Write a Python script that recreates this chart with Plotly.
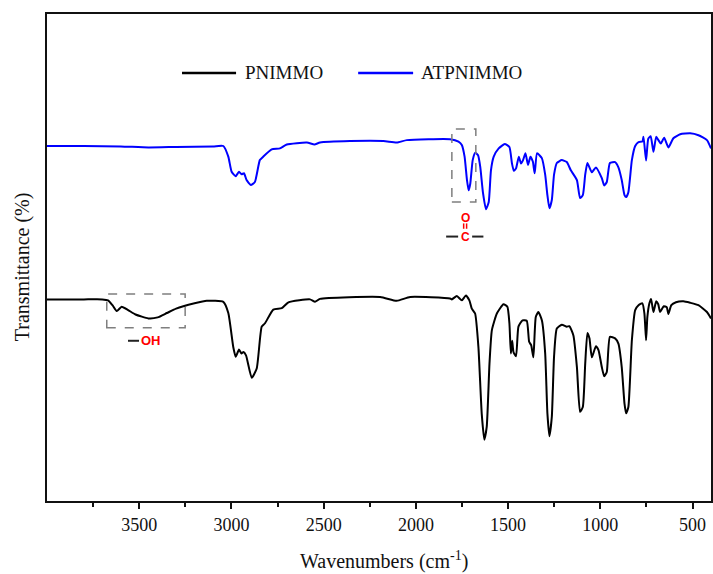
import plotly.graph_objects as go

# ---------------- data ----------------
pn_wn = [4000, 3900, 3800, 3700, 3669, 3645, 3622, 3595, 3560, 3520, 3451, 3400, 3350, 3300,
         3261, 3200, 3134, 3044, 3017, 2990, 2977, 2959, 2946, 2935, 2921, 2890, 2863, 2836,
         2818, 2773, 2727, 2691, 2574, 2547, 2520, 2194, 2104, 2031, 1815, 1805, 1778, 1751,
         1729, 1710, 1697, 1679, 1661, 1643, 1629, 1616, 1601, 1588, 1561, 1525, 1504, 1493,
         1485, 1478, 1471, 1457, 1444, 1422, 1399, 1386, 1375, 1363, 1350, 1336, 1317, 1299,
         1287, 1276, 1263, 1251, 1236, 1209, 1182, 1168, 1146, 1127, 1110, 1095, 1082, 1070,
         1059, 1046, 1024, 1010, 992, 979, 965, 948, 920, 902, 884, 869, 860, 848, 829, 811,
         793, 772, 761, 752, 745, 734, 725, 712, 697, 686, 676, 656, 640, 631, 615, 590, 550,
         513, 468, 422, 400]
pn_t = [41.4, 41.4, 41.4, 41.4, 41.2, 40.2, 39.0, 39.9, 39.2, 38.3, 37.5, 37.7, 38.6, 39.5,
        40.0, 40.6, 41.1, 40.9, 38.6, 31.6, 29.6, 31.1, 30.3, 30.6, 29.9, 25.3, 27.2, 35.8,
        36.5, 39.3, 39.6, 40.8, 41.4, 40.9, 41.5, 41.9, 41.1, 41.9, 41.6, 41.4, 42.1, 41.2,
        42.2, 41.2, 39.5, 38.5, 31.6, 17.9, 12.6, 15.2, 28.2, 35.1, 38.5, 40.4, 39.9, 36.5,
        30.3, 32.9, 30.6, 29.7, 35.8, 37.1, 37.0, 32.7, 32.0, 29.5, 37.8, 38.8, 37.1, 30.3,
        18.0, 13.3, 17.3, 29.6, 35.4, 36.2, 35.8, 35.9, 34.0, 27.5, 18.3, 19.3, 28.2, 34.5,
        33.4, 29.5, 31.8, 31.0, 27.5, 25.6, 26.5, 33.7, 33.4, 32.3, 27.5, 20.0, 18.0, 19.3,
        33.0, 39.2, 40.2, 40.6, 38.5, 33.0, 37.8, 40.6, 41.5, 38.8, 41.0, 40.4, 38.8, 40.0,
        39.8, 38.4, 40.2, 40.8, 41.0, 40.7, 40.2, 38.8, 37.5]

atp_wn = [4000, 3800, 3600, 3450, 3300, 3100, 3044, 3017, 2999, 2977, 2959, 2945, 2932, 2918,
          2895, 2873, 2846, 2828, 2782, 2737, 2700, 2591, 2550, 2520, 2357, 2176, 2104, 2049,
          1815, 1769, 1751, 1736, 1723, 1714, 1705, 1692, 1678, 1663, 1651, 1636, 1620, 1605,
          1593, 1578, 1551, 1518, 1493, 1479, 1469, 1457, 1442, 1430, 1419, 1406, 1392, 1379,
          1366, 1356, 1343, 1317, 1299, 1287, 1276, 1263, 1251, 1236, 1209, 1182, 1160, 1127,
          1110, 1095, 1082, 1070, 1046, 1024, 992, 979, 965, 948, 920, 902, 884, 869, 860,
          848, 829, 811, 793, 772, 766, 752, 740, 727, 712, 697, 685, 672, 654, 631, 604,
          567, 513, 468, 422, 400]
atp_t = [72.9, 72.9, 72.8, 72.6, 72.7, 72.8, 72.9, 70.7, 67.6, 66.7, 67.6, 67.1, 67.3, 65.9,
         64.9, 65.5, 70.0, 70.7, 72.2, 72.4, 73.2, 73.6, 73.2, 73.6, 73.9, 73.9, 73.6, 74.1,
         74.3, 73.8, 73.1, 70.7, 65.9, 63.8, 65.2, 70.0, 71.5, 71.0, 68.6, 63.2, 59.9, 61.4,
         67.9, 70.7, 72.4, 73.3, 72.7, 69.3, 67.8, 68.3, 70.7, 69.3, 70.0, 71.4, 69.0, 70.7,
         69.7, 67.3, 71.4, 70.4, 67.0, 62.8, 60.1, 61.8, 67.0, 69.4, 70.0, 69.6, 67.9, 65.9,
         62.2, 62.8, 67.0, 69.4, 67.5, 68.5, 66.3, 64.8, 65.5, 69.4, 69.6, 68.5, 65.9, 62.8,
         62.4, 63.4, 70.0, 72.9, 73.7, 73.8, 74.8, 69.9, 74.4, 74.9, 71.7, 74.8, 74.1, 73.4,
         74.6, 72.6, 74.5, 75.3, 75.5, 75.1, 74.1, 72.4]

series_names = ["PNIMMO", "ATPNIMMO"]
series_colors = ["#000000", "#0000ff"]
tick_vals = [3500, 3000, 2500, 2000, 1500, 1000, 500]
minor_vals = [3750, 3250, 2750, 2250, 1750, 1250, 750]

FONT = "Liberation Serif"

fig = go.Figure()
fig.add_trace(go.Scatter(x=pn_wn, y=pn_t, mode="lines", name=series_names[0],
                         line=dict(color=series_colors[0], width=2, shape="spline", smoothing=0.5)))
fig.add_trace(go.Scatter(x=atp_wn, y=atp_t, mode="lines", name=series_names[1],
                         line=dict(color=series_colors[1], width=2, shape="spline", smoothing=0.5)))

shapes = []
annotations = []

# custom legend
leg_y = 87.9
for (x0, x1, tx), name, col in zip([(3268, 2975, 2937), (2313, 2015, 1983)], series_names, series_colors):
    shapes.append(dict(type="line", xref="x", yref="y", x0=x0, x1=x1, y0=leg_y, y1=leg_y,
                       line=dict(color=col, width=2.5)))
    annotations.append(dict(x=tx, y=leg_y, xref="x", yref="y", text=name, showarrow=False,
                            xanchor="left", yanchor="middle",
                            font=dict(family=FONT, size=19, color="#111")))

# dashed highlight boxes
for (x0, x1, y0, y1) in [(3676, 3251, 35.6, 42.5), (1805, 1675, 61.4, 76.4)]:
    shapes.append(dict(type="rect", xref="x", yref="y", x0=x0, x1=x1, y0=y0, y1=y1,
                       line=dict(color="#7f7f7f", width=1.5, dash="dash")))

# -OH label
shapes.append(dict(type="line", xref="x", yref="y", x0=3561, x1=3501, y0=32.9, y1=32.9,
                   line=dict(color="#222", width=2)))
annotations.append(dict(x=3436, y=32.9, xref="x", yref="y", text="<b>OH</b>", showarrow=False,
                        xanchor="center", yanchor="middle",
                        font=dict(family="Liberation Sans", size=13, color="#ff0000")))

# C=O label
annotations.append(dict(x=1733, y=58.2, xref="x", yref="y", text="<b>O</b>", showarrow=False,
                        xanchor="center", yanchor="middle",
                        font=dict(family="Liberation Sans", size=12, color="#ff0000")))
annotations.append(dict(x=1733, y=54.3, xref="x", yref="y", text="<b>C</b>", showarrow=False,
                        xanchor="center", yanchor="middle",
                        font=dict(family="Liberation Sans", size=12, color="#ff0000")))
for xv in (1741, 1725):
    shapes.append(dict(type="line", xref="x", yref="y", x0=xv, x1=xv, y0=55.9, y1=57.0,
                       line=dict(color="#ff0000", width=1.5)))
for (x0, x1) in [(1836, 1771), (1695, 1634)]:
    shapes.append(dict(type="line", xref="x", yref="y", x0=x0, x1=x1, y0=54.3, y1=54.3,
                       line=dict(color="#222", width=2)))

# axis titles as annotations (fixed positions)
annotations.append(dict(x=0.508, y=0, xref="paper", yref="paper", yshift=-59,
                        text="Wavenumbers (cm<sup>-1</sup>)", showarrow=False,
                        xanchor="center", yanchor="middle",
                        font=dict(family=FONT, size=20, color="#111")))
annotations.append(dict(x=0, y=0.48, xref="paper", yref="paper", xshift=-25,
                        text="Transmittance (%)", showarrow=False, textangle=-90,
                        xanchor="center", yanchor="middle",
                        font=dict(family=FONT, size=20, color="#111")))

fig.update_layout(
    width=713, height=574,
    margin=dict(l=47, r=2, t=14, b=73, autoexpand=False),
    paper_bgcolor="white", plot_bgcolor="white",
    showlegend=False,
    shapes=shapes, annotations=annotations,
    font=dict(family=FONT, size=18, color="#111"),
)
fig.update_xaxes(
    range=[4000, 400], tickvals=tick_vals, ticks="outside", ticklen=6, tickwidth=2,
    tickcolor="#111", showline=True, mirror=True, linecolor="#111", linewidth=2,
    showgrid=False, zeroline=False, automargin=False,
    tickfont=dict(family=FONT, size=18, color="#111"),
    minor=dict(tickvals=minor_vals, ticks="outside", ticklen=4, tickwidth=2, tickcolor="#111",
               showgrid=False),
)
fig.update_yaxes(
    range=[0, 100], showticklabels=False, ticks="", showline=True, mirror=True,
    linecolor="#111", linewidth=2, showgrid=False, zeroline=False, automargin=False,
)

fig.write_html("out.html", config={"displayModeBar": False},
               post_script="document.body.style.margin='0';document.body.style.overflow='hidden';")
